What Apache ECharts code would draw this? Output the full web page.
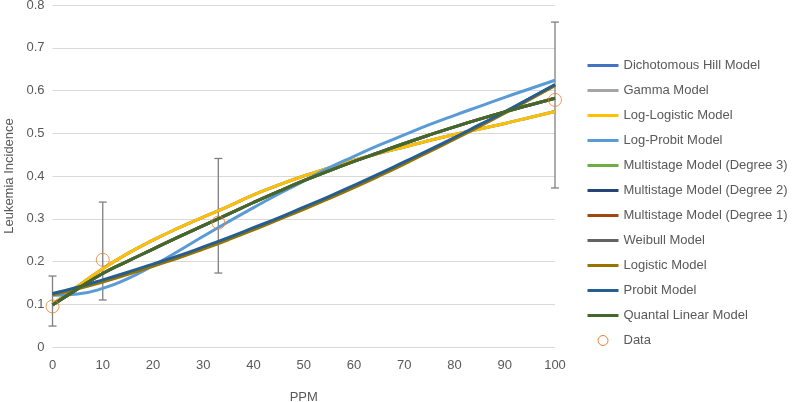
<!DOCTYPE html>
<html>
<head>
<meta charset="utf-8">
<script src="https://cdn.jsdelivr.net/npm/echarts@6/dist/echarts.min.js"></script>
<style>html,body{margin:0;padding:0;background:#fff;}#c{width:792px;height:402px;}</style>
</head>
<body>
<div id="c"></div>
<script>
var doses = [0,5,10,15,20,25,30,35,40,45,50,55,60,65,70,75,80,85,90,95,100];
var dichotomousHill = [0.100,0.142,0.183,0.219,0.250,0.278,0.304,0.329,0.356,0.379,0.400,0.419,0.437,0.453,0.468,0.483,0.497,0.510,0.523,0.537,0.551];
var gamma = [0.098,0.136,0.172,0.201,0.229,0.257,0.284,0.311,0.338,0.364,0.389,0.412,0.434,0.455,0.476,0.496,0.515,0.533,0.550,0.566,0.582];
var logLogistic = [0.100,0.142,0.183,0.219,0.250,0.278,0.304,0.329,0.356,0.379,0.400,0.419,0.437,0.453,0.468,0.483,0.497,0.510,0.523,0.537,0.551];
var logProbit = [0.121,0.124,0.137,0.160,0.190,0.224,0.259,0.293,0.326,0.358,0.388,0.419,0.446,0.472,0.496,0.520,0.542,0.563,0.584,0.604,0.624];
var multistage3 = [0.123,0.138,0.154,0.172,0.191,0.210,0.231,0.253,0.276,0.300,0.324,0.349,0.375,0.402,0.430,0.459,0.488,0.518,0.549,0.581,0.613];
var multistage2 = [0.123,0.138,0.154,0.172,0.191,0.210,0.231,0.253,0.276,0.300,0.324,0.349,0.375,0.402,0.430,0.459,0.488,0.518,0.549,0.581,0.613];
var multistage1 = [0.098,0.136,0.172,0.201,0.229,0.257,0.284,0.311,0.338,0.364,0.389,0.412,0.434,0.455,0.476,0.496,0.515,0.533,0.550,0.566,0.582];
var weibull = [0.098,0.136,0.172,0.201,0.229,0.257,0.284,0.311,0.338,0.364,0.389,0.412,0.434,0.455,0.476,0.496,0.515,0.533,0.550,0.566,0.582];
var logistic = [0.122,0.136,0.152,0.170,0.189,0.208,0.229,0.251,0.274,0.298,0.322,0.347,0.373,0.400,0.428,0.457,0.486,0.516,0.547,0.579,0.611];
var probit = [0.125,0.140,0.157,0.175,0.194,0.213,0.234,0.256,0.279,0.302,0.327,0.352,0.378,0.405,0.433,0.461,0.490,0.520,0.550,0.582,0.614];
var quantalLinear = [0.098,0.136,0.172,0.201,0.229,0.257,0.284,0.311,0.338,0.364,0.389,0.412,0.434,0.455,0.476,0.496,0.515,0.533,0.550,0.566,0.582];
var dataDose = [0,10,33,100];
var dataIncidence = [0.095,0.204,0.291,0.578];
var errLow = [0.049,0.110,0.173,0.372];
var errHigh = [0.166,0.339,0.441,0.760];

var modelNames = ['Dichotomous Hill Model','Gamma Model','Log-Logistic Model','Log-Probit Model','Multistage Model (Degree 3)','Multistage Model (Degree 2)','Multistage Model (Degree 1)','Weibull Model','Logistic Model','Probit Model','Quantal Linear Model'];
var modelData = [dichotomousHill,gamma,logLogistic,logProbit,multistage3,multistage2,multistage1,weibull,logistic,probit,quantalLinear];
var modelColors = ['#4472C4','#A5A5A5','#FFC000','#5B9BD5','#70AD47','#264478','#9E480E','#636363','#997300','#255E91','#43682B'];

function pairs(xs, ys){ return xs.map(function(x,i){ return [x, ys[i]]; }); }

var series = [];
series.push({
  type:'custom', name:'err', z:1, silent:true,
  data: dataDose.map(function(x,i){ return [x, errLow[i], errHigh[i]]; }),
  renderItem: function(params, api){
    var lo = api.coord([api.value(0), api.value(1)]);
    var hi = api.coord([api.value(0), api.value(2)]);
    var w = 4;
    var st = {stroke:'#808080', lineWidth:1.3};
    return {type:'group', children:[
      {type:'line', shape:{x1:lo[0],y1:lo[1],x2:hi[0],y2:hi[1]}, style:st},
      {type:'line', shape:{x1:lo[0]-w,y1:lo[1],x2:lo[0]+w,y2:lo[1]}, style:st},
      {type:'line', shape:{x1:hi[0]-w,y1:hi[1],x2:hi[0]+w,y2:hi[1]}, style:st}
    ]};
  }
});
modelNames.forEach(function(n,i){
  series.push({
    type:'line', name:n, data:pairs(doses, modelData[i]), smooth:true,
    symbol:'none', z:2+i,
    lineStyle:{color:modelColors[i], width:3},
    itemStyle:{color:modelColors[i]}
  });
});
series.push({
  type:'scatter', name:'Data', data:pairs(dataDose, dataIncidence), z:20,
  symbol:'circle', symbolSize:13,
  itemStyle:{color:'rgba(255,255,255,0)', borderColor:'#ED7D31', borderWidth:1}
});

var chart = echarts.init(document.getElementById('c'));
var txt = '#595959';
var font = 'Liberation Sans, Arial, sans-serif';
chart.setOption({
  animation:false,
  textStyle:{fontFamily:font},
  grid:{left:52.5, right:237, top:5, bottom:55, containLabel:false, outerBoundsMode:'none'},
  xAxis:{
    type:'value', min:0, max:100, interval:10,
    name:'PPM', nameLocation:'middle', nameGap:44,
    nameTextStyle:{color:txt, fontSize:13, fontFamily:font},
    axisLine:{show:false}, axisTick:{show:false},
    splitLine:{show:false},
    axisLabel:{color:txt, fontSize:13, margin:12, fontFamily:font}
  },
  yAxis:{
    type:'value', min:0, max:0.8, interval:0.1,
    name:'Leukemia Incidence', nameLocation:'middle', nameGap:35,
    nameTextStyle:{color:txt, fontSize:13, fontFamily:font},
    axisLine:{show:false}, axisTick:{show:false},
    splitLine:{show:true, lineStyle:{color:'#d9d9d9', width:1}},
    axisLabel:{color:txt, fontSize:13, margin:8, fontFamily:font,
      formatter:function(v){ return Math.round(v*10)/10 + ''; }}
  },
  legend:{
    orient:'vertical', left:586, top:59, padding:0,
    itemWidth:31, itemHeight:10, itemGap:12,
    itemStyle:{opacity:0},
    lineStyle:{width:3},
    textStyle:{color:txt, fontSize:13, fontFamily:font},
    data: modelNames.map(function(n){ return {name:n}; }).concat([{name:'Data', icon:'circle', itemStyle:{opacity:1, color:'rgba(255,255,255,0)', borderColor:'#ED7D31', borderWidth:1}}])
  },
  series:series
});
</script>
</body>
</html>
